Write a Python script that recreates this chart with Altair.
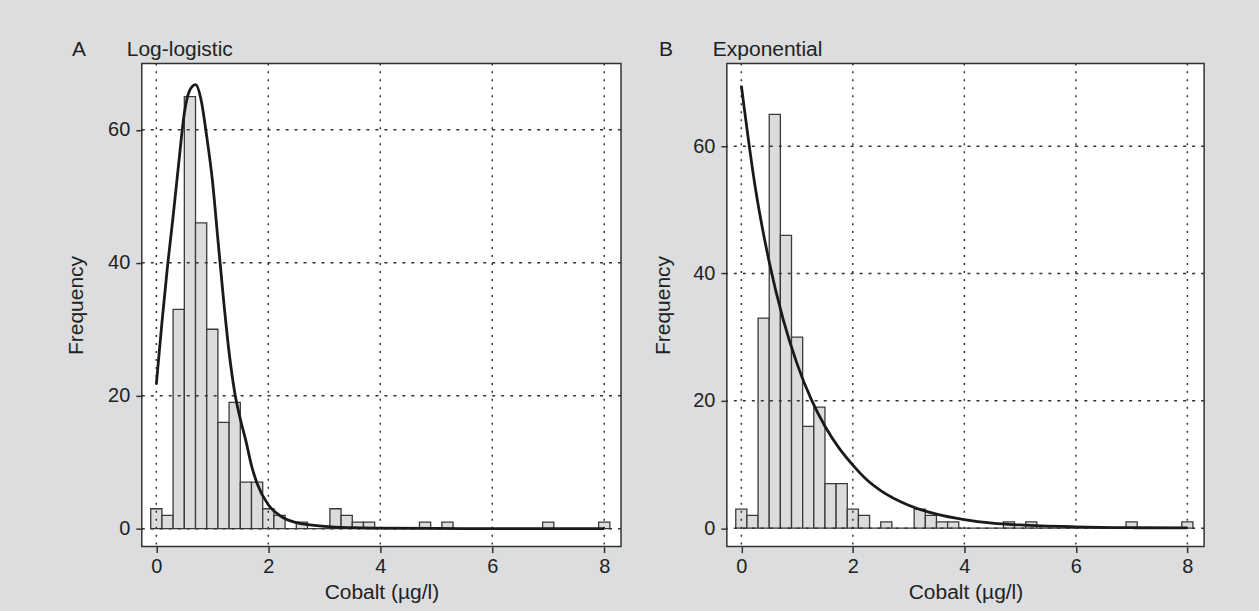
import altair as alt
import pandas as pd

# ---------------- data ----------------
bin_centers = [0.0, 0.2, 0.4, 0.6, 0.8, 1.0, 1.2, 1.4, 1.6, 1.8,
               2.0, 2.2, 2.4, 2.6, 2.8, 3.0, 3.2, 3.4, 3.6, 3.8,
               4.0, 4.2, 4.4, 4.6, 4.8, 5.0, 5.2, 5.4, 5.6, 5.8,
               6.0, 6.2, 6.4, 6.6, 6.8, 7.0, 7.2, 7.4, 7.6, 7.8, 8.0]
counts = [3, 2, 33, 65, 46, 30, 16, 19, 7, 7,
          3, 2, 0, 1, 0, 0, 3, 2, 1, 1,
          0, 0, 0, 0, 1, 0, 1, 0, 0, 0,
          0, 0, 0, 0, 0, 1, 0, 0, 0, 0, 1]
bin_width = 0.2

# log-logistic fitted curve (panel A)
ll_x = [0.0, 0.1, 0.2, 0.3, 0.4, 0.5, 0.6, 0.7, 0.8, 0.9, 1.0, 1.1, 1.2, 1.3,
        1.4, 1.5, 1.6, 1.7, 1.8, 2.0, 2.2, 2.5, 3.0, 3.5, 4.0, 5.0, 6.0, 8.0]
ll_y = [21.7, 31.0, 39.5, 47.0, 55.0, 62.5, 66.0, 66.8, 64.5, 59.0, 52.5, 43.5,
        34.5, 26.5, 20.5, 16.5, 13.2, 9.5, 6.8, 3.6, 2.0, 0.9, 0.35, 0.15, 0.08,
        0.03, 0.01, 0.0]

# exponential fitted curve (panel B)
ex_x = [0.0, 0.25, 0.5, 0.75, 1.0, 1.25, 1.5, 1.75, 2.0, 2.25, 2.5, 3.0, 3.5,
        4.0, 4.5, 5.0, 6.0, 7.0, 8.0]
ex_y = [69.5, 53.5, 41.8, 32.8, 25.8, 20.3, 16.0, 12.6, 9.9, 7.6, 5.9, 3.6, 2.2,
        1.35, 0.8, 0.5, 0.2, 0.07, 0.03]

x_ticks = [0, 2, 4, 6, 8]
y_ticks = [0, 20, 40, 60]
panel_letters = ["A", "B"]
panel_titles = ["Log-logistic", "Exponential"]
y_title = "Frequency"
x_title = "Cobalt (µg/l)"

# ---------------- styling ----------------
FONT = "'Liberation Sans Narrow', 'Arial Narrow', 'Liberation Sans', Arial, sans-serif"
FS = 21
LFS = 20
BG = "#dcdddf"
INK = "#222222"
LINE = "#333333"
H = 484

bars_df = pd.DataFrame({
    "lo": [c - bin_width / 2 for c in bin_centers],
    "hi": [c + bin_width / 2 for c in bin_centers],
    "base": [0] * len(counts),
    "count": counts,
})
vgrid_df = pd.DataFrame({"v": x_ticks})
hgrid_df = pd.DataFrame({"v": y_ticks})


def panel(cx, cy, ydom, width, idx, ylab_x, extra):
    xs = alt.Scale(domain=[-0.26, 8.3], nice=False, zero=False)
    ys = alt.Scale(domain=ydom, nice=False, zero=False)
    xax = alt.Axis(values=x_ticks, title=x_title, format="d", tickSize=6,
                   labelPadding=4, titleY=35, titleBaseline="top")
    yax = alt.Axis(values=y_ticks, title=y_title, format="d", tickSize=6,
                   labelPadding=6, titleX=ylab_x, titleY=H / 2)

    def X(f):
        return alt.X(f, type="quantitative", scale=xs, axis=xax)

    def Y(f):
        return alt.Y(f, type="quantitative", scale=ys, axis=yax)

    bars = alt.Chart(bars_df).mark_rect(
        fill="#dcdcdc", stroke="#3a3a3a", strokeWidth=1.3
    ).encode(x=X("lo"), x2="hi", y=Y("base"), y2="count")

    vgrid = alt.Chart(vgrid_df).mark_rule(
        color=LINE, strokeDash=[2, 6], strokeWidth=1.5
    ).encode(x=X("v"))
    hgrid = alt.Chart(hgrid_df).mark_rule(
        color=LINE, strokeDash=[3, 6], strokeWidth=1.5
    ).encode(y=Y("v"))

    curve_df = pd.DataFrame({"x": cx, "y": cy})
    curve = alt.Chart(curve_df).mark_line(
        color="#1a1a1a", strokeWidth=2.8, interpolate="monotone"
    ).encode(x=X("x"), y=Y("y"))

    tdf = pd.DataFrame({"letter": [panel_letters[idx]], "title": [panel_titles[idx]]})
    letter = alt.Chart(tdf).mark_text(
        align="left", baseline="alphabetic", font=FONT, fontSize=FS, color=INK
    ).encode(x=alt.value(-70 if idx == 0 else -68), y=alt.value(-7), text="letter:N")
    title = alt.Chart(tdf).mark_text(
        align="left", baseline="alphabetic", font=FONT, fontSize=FS, color=INK
    ).encode(x=alt.value(-15 if idx == 0 else -14), y=alt.value(-7), text="title:N")

    bound = alt.Chart(tdf).mark_rule(opacity=0, strokeWidth=0).encode(
        x=alt.value(extra[0]), x2=alt.value(extra[0]),
        y=alt.value(extra[1]), y2=alt.value(extra[1]))

    return alt.layer(bars, vgrid, hgrid, curve, letter, title, bound).properties(
        width=width, height=H)


pa = panel(ll_x, ll_y, [-2.7, 70.0], 480, 0, -55, (-141, -62))
pb = panel(ex_x, ex_y, [-2.9, 73.0], 478, 1, -53, (532, 549))

chart = alt.hconcat(pa, pb, spacing=106, bounds="flush").properties(
    padding=0, background=BG
).configure_view(
    stroke=LINE, strokeWidth=1.5, fill="white"
).configure_axis(
    labelFont=FONT, titleFont=FONT, labelFontSize=LFS, titleFontSize=FS,
    labelColor=INK, titleColor=INK, titleFontWeight="normal",
    tickColor=LINE, tickWidth=1.5, domain=False, grid=False
)

chart.save("out.html", embed_options={"renderer": "svg", "actions": False})
